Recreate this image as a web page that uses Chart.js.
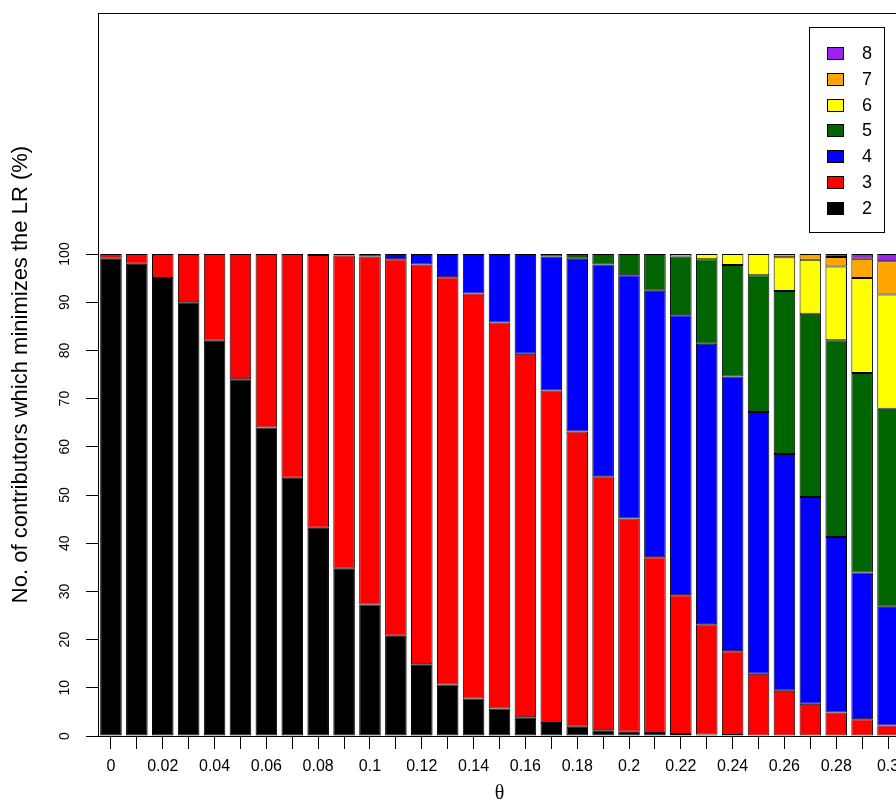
<!DOCTYPE html>
<html>
<head>
<meta charset="utf-8">
<script src="https://cdn.jsdelivr.net/npm/chart.js@4"></script>
<style>
  html, body { margin: 0; padding: 0; background: #fff; overflow: hidden; }
  canvas { display: block; }
</style>
</head>
<body>
<canvas id="lrChart" width="910" height="801"></canvas>
<script>
// theta values on the x axis
const thetas = ['0', '0.01', '0.02', '0.03', '0.04', '0.05', '0.06', '0.07', '0.08', '0.09',
  '0.1', '0.11', '0.12', '0.13', '0.14', '0.15', '0.16', '0.17', '0.18', '0.19',
  '0.2', '0.21', '0.22', '0.23', '0.24', '0.25', '0.26', '0.27', '0.28', '0.29', '0.3'];

// % of runs where n contributors minimizes the LR
const n2 = [99, 98, 95, 90, 82, 74, 64, 53.6, 43.2, 34.7, 27.3, 20.8, 14.9, 10.7, 7.8,
  5.7, 3.9, 2.7, 1.9, 1.2, 0.9, 0.6, 0.4, 0.3, 0.2, 0.1, 0.1, 0, 0, 0, 0];
const n3 = [1, 2, 5, 10, 18, 26, 36, 46.4, 56.6, 65, 72.2, 78.1, 82.9, 84.5, 84,
  80.1, 75.4, 69, 61.3, 52.7, 44.2, 36.5, 28.8, 22.9, 17.4, 12.8, 9.3, 6.7, 4.9, 3.5, 2.2];
const n4 = [0, 0, 0, 0, 0, 0, 0, 0, 0.2, 0.3, 0.5, 1.1, 2.2, 4.8, 8.2,
  14.2, 20.7, 27.8, 35.8, 43.9, 50.5, 55.3, 58.1, 58.2, 57, 54.3, 49.1, 42.9, 36.4, 30.4, 24.6];
const n5 = [0, 0, 0, 0, 0, 0, 0, 0, 0, 0, 0, 0, 0, 0, 0,
  0, 0, 0.5, 1, 2.2, 4.4, 7.6, 12.2, 17.5, 23.1, 28.4, 33.8, 38, 40.8, 41.4, 41.1];
const n6 = [0, 0, 0, 0, 0, 0, 0, 0, 0, 0, 0, 0, 0, 0, 0,
  0, 0, 0, 0, 0, 0, 0, 0.5, 1.1, 2.3, 4.4, 7, 11.2, 15.3, 19.7, 23.7];
const n7 = [0, 0, 0, 0, 0, 0, 0, 0, 0, 0, 0, 0, 0, 0, 0,
  0, 0, 0, 0, 0, 0, 0, 0, 0, 0, 0, 0.7, 1.2, 2, 4, 6.9];
const n8 = [0, 0, 0, 0, 0, 0, 0, 0, 0, 0, 0, 0, 0, 0, 0,
  0, 0, 0, 0, 0, 0, 0, 0, 0, 0, 0, 0, 0, 0.6, 1, 1.5];

const yTicks = [0, 10, 20, 30, 40, 50, 60, 70, 80, 90, 100];

Chart.defaults.font.family = "'Liberation Sans', Arial, Helvetica, sans-serif";
Chart.defaults.color = '#000';

// frame around the plot region
const plotBox = {
  id: 'plotBox',
  afterDraw(chart) {
    const a = chart.chartArea;
    const ctx = chart.ctx;
    ctx.save();
    ctx.strokeStyle = '#000';
    ctx.lineWidth = 1;
    ctx.strokeRect(Math.round(a.left) + 0.5, Math.round(a.top) + 0.5,
      Math.round(a.right - a.left), Math.round(a.bottom - a.top));
    ctx.restore();
  }
};

// boxed legend in the top right corner, largest count on top
const boxLegend = {
  id: 'boxLegend',
  afterDraw(chart) {
    const a = chart.chartArea;
    const ctx = chart.ctx;
    const x0 = Math.round(a.right - 92), y0 = Math.round(a.top + 14);
    ctx.save();
    ctx.strokeStyle = '#000';
    ctx.lineWidth = 1;
    ctx.fillStyle = '#fff';
    ctx.fillRect(x0, y0, 75, 205);
    ctx.strokeRect(x0 + 0.5, y0 + 0.5, 75, 205);
    ctx.font = "18px 'Liberation Sans', Arial, sans-serif";
    ctx.textBaseline = 'middle';
    ctx.textAlign = 'left';
    chart.data.datasets.slice().reverse().forEach((ds, i) => {
      const cy = Math.round(y0 + 26 + i * 25.8);
      ctx.fillStyle = ds.backgroundColor;
      ctx.fillRect(x0 + 18, cy - 6, 17, 13);
      ctx.strokeRect(x0 + 18.5, cy - 5.5, 16, 12);
      ctx.fillStyle = '#000';
      ctx.fillText(ds.label, x0 + 53, cy + 1);
    });
    ctx.restore();
  }
};

function series(label, data, color) {
  return {
    label: label,
    data: data,
    backgroundColor: color,
    borderColor: '#000',
    borderWidth: 1,
    borderSkipped: false,
    barPercentage: 1,
    categoryPercentage: 0.833
  };
}

new Chart(document.getElementById('lrChart'), {
  type: 'bar',
  data: {
    labels: thetas,
    datasets: [
      series('2', n2, '#000000'),
      series('3', n3, '#FF0000'),
      series('4', n4, '#0000FF'),
      series('5', n5, '#006400'),
      series('6', n6, '#FFFF00'),
      series('7', n7, '#FFA500'),
      series('8', n8, '#A020F0')
    ]
  },
  options: {
    responsive: false,
    animation: false,
    layout: { padding: { top: 13, right: 9, left: 0, bottom: 0 } },
    plugins: {
      legend: { display: false },
      tooltip: { enabled: false }
    },
    scales: {
      x: {
        stacked: true,
        offset: true,
        grid: { offset: false, drawOnChartArea: false, color: '#000', tickColor: '#000', tickLength: 13 },
        border: { display: true, color: '#000', width: 1 },
        ticks: {
          autoSkip: false,
          maxRotation: 0,
          padding: 8,
          font: { size: 16 },
          callback: function(value, index) {
            return index % 2 === 0 ? thetas[index] : '';
          }
        },
        title: {
          display: true,
          text: 'θ',
          font: { family: "'Liberation Serif', 'DejaVu Serif', serif", size: 20, lineHeight: 1 },
          padding: { top: 0, bottom: -3 }
        },
        afterFit: function(scale) {
          scale.height = 65;
          scale.paddingLeft = 0;
          scale.paddingRight = 0;
        }
      },
      y: {
        stacked: true,
        min: 0,
        max: 150,
        grid: { drawOnChartArea: false, color: '#000', tickColor: '#000', tickLength: 12 },
        border: { display: true, color: '#000', width: 1 },
        ticks: {
          stepSize: 10,
          minRotation: 90,
          maxRotation: 90,
          crossAlign: 'center',
          padding: 9,
          font: { size: 14 }
        },
        afterBuildTicks: function(scale) {
          scale.ticks = yTicks.map(v => ({ value: v }));
        },
        title: {
          display: true,
          text: 'No. of contributors which minimizes the LR (%)',
          font: { size: 22, lineHeight: 1.2 },
          padding: { top: 8, bottom: 0 }
        },
        afterFit: function(scale) {
          scale.width = 98;
          scale.paddingTop = 0;
          scale.paddingBottom = 0;
        }
      }
    }
  },
  plugins: [plotBox, boxLegend]
});
</script>
</body>
</html>
